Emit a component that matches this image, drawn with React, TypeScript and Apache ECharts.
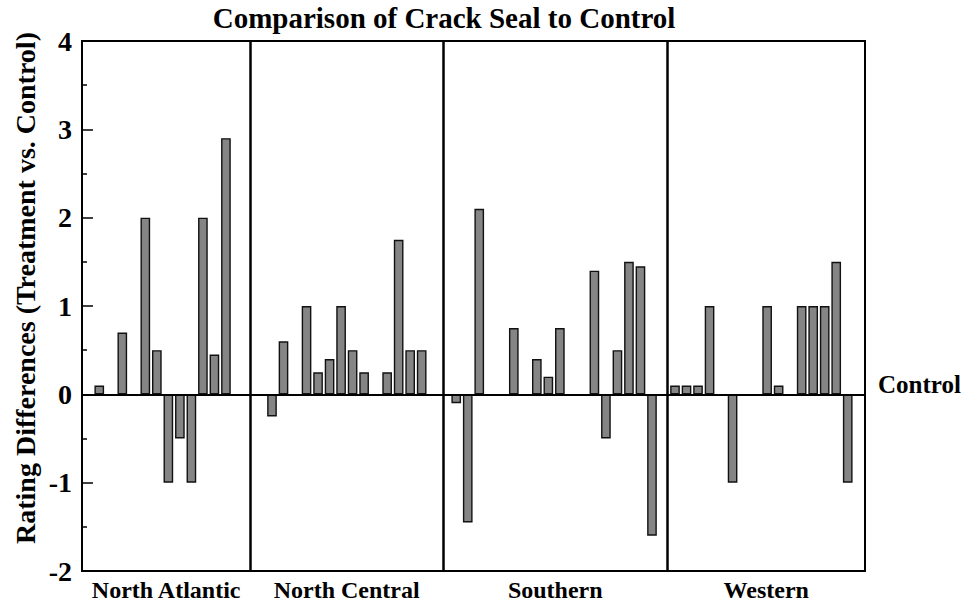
import React, { useEffect, useRef } from "react";
import * as echarts from "echarts";

// ---- data (rating differences, treatment vs. control), one slot per test section; null = empty slot
const regionNames = ["North Atlantic", "North Central", "Southern", "Western"];
const northAtlantic = [null, 0.1, null, 0.7, null, 2.0, 0.5, -1.0, -0.5, -1.0, 2.0, 0.45, 2.9, null, null];
const northCentral = [null, -0.25, 0.6, null, 1.0, 0.25, 0.4, 1.0, 0.5, 0.25, null, 0.25, 1.75, 0.5, 0.5, null];
const southern = [null, -0.1, -1.45, 2.1, null, null, 0.75, null, 0.4, 0.2, 0.75, null, null, 1.4, -0.5, 0.5, 1.5, 1.45, -1.6];
const western = [null, 0.1, 0.1, 0.1, 1.0, null, -1.0, null, null, 1.0, 0.1, null, 1.0, 1.0, 1.0, 1.5, -1.0, null];
const yMin = -2;
const yMax = 4;
const yInterval = 1;
const titleText = "Comparison of Crack Seal to Control";
const yAxisTitle = "Rating Differences (Treatment vs. Control)";
const referenceLabel = "Control";

const FONT = "'Liberation Serif', 'Times New Roman', serif";

export default function App() {
  const ref = useRef<HTMLDivElement>(null);
  useEffect(() => {
    if (!ref.current) return;
    const chart = echarts.init(ref.current, undefined, { renderer: "svg" });
    const values = [...northAtlantic, ...northCentral, ...southern, ...western];
    const slotLabels = values.map((_, i) => String(i));
    // layout: region boundaries on a slot scale (first slot centre = -1)
    const bounds = [-1.5, 13.12, 29.85, 49.35, 66.5];
    const dividers = bounds.slice(1, -1);
    const centers = regionNames.map((_, i) => (bounds[i] + bounds[i + 1]) / 2);
    const option: any = {
      animation: false,
      title: {
        text: titleText,
        left: 444,
        top: 3,
        textAlign: "center",
        padding: 0,
        textStyle: { fontFamily: FONT, fontSize: 29, fontWeight: "bold", color: "#000" },
      },
      grid: { left: 82, right: 106, top: 41, bottom: 36, show: true, borderColor: "#000", borderWidth: 2 },
      xAxis: [
        {
          type: "category",
          data: slotLabels,
          axisLine: { show: false },
          axisTick: { show: false },
          axisLabel: { show: false },
          splitLine: { show: false },
        },
        {
          type: "value",
          position: "bottom",
          min: -1.5,
          max: 66.5,
          axisLine: { show: false, onZero: false },
          axisTick: { show: false },
          splitLine: { show: false },
          axisLabel: {
            customValues: centers,
            margin: 7,
            fontFamily: FONT,
            fontSize: 24,
            fontWeight: "bold",
            color: "#000",
            formatter: (v: number) => {
              let best = 0;
              centers.forEach((c, i) => {
                if (Math.abs(c - v) < Math.abs(centers[best] - v)) best = i;
              });
              return regionNames[best];
            },
          },
        },
      ],
      yAxis: {
        type: "value",
        min: yMin,
        max: yMax,
        interval: yInterval,
        axisLine: { show: true, onZero: false, lineStyle: { color: "#000", width: 2 } },
        axisTick: { show: true, inside: true, length: 11, lineStyle: { color: "#000", width: 1.5 } },
        minorTick: { show: true, splitNumber: 2, length: 5, lineStyle: { color: "#000", width: 1.5 } },
        splitLine: { show: false },
        minorSplitLine: { show: false },
        axisLabel: { fontFamily: FONT, fontSize: 28, fontWeight: "bold", color: "#000", margin: 10 },
      },
      series: [
        {
          type: "bar",
          data: values,
          barWidth: "84%",
          itemStyle: { color: "#858585", borderColor: "#111", borderWidth: 1.4 },
          markLine: {
            silent: true,
            symbol: "none",
            label: { show: false },
            lineStyle: { color: "#000", width: 2, type: "solid" },
            data: [{ yAxis: 0 }],
          },
        },
        {
          type: "scatter",
          xAxisIndex: 1,
          yAxisIndex: 0,
          data: [],
          markLine: {
            silent: true,
            symbol: "none",
            label: { show: false },
            lineStyle: { color: "#000", width: 2.5, type: "solid" },
            data: dividers.map((d) => ({ xAxis: d })),
          },
        },
      ],
      graphic: [
        {
          type: "text",
          x: 25,
          y: 288,
          rotation: Math.PI / 2,
          style: {
            text: yAxisTitle,
            font: `bold 28px ${FONT}`,
            fill: "#000",
            align: "center",
            verticalAlign: "middle",
          },
        },
        {
          type: "text",
          x: 878,
          y: 384,
          style: {
            text: referenceLabel,
            font: `bold 25px ${FONT}`,
            fill: "#000",
            align: "left",
            verticalAlign: "middle",
          },
        },
      ],
    };
    chart.setOption(option);
    return () => chart.dispose();
  }, []);
  return (
    <div
      ref={ref}
      style={{ position: "fixed", left: 0, top: 0, width: 971, height: 607, background: "#fff" }}
    />
  );
}
